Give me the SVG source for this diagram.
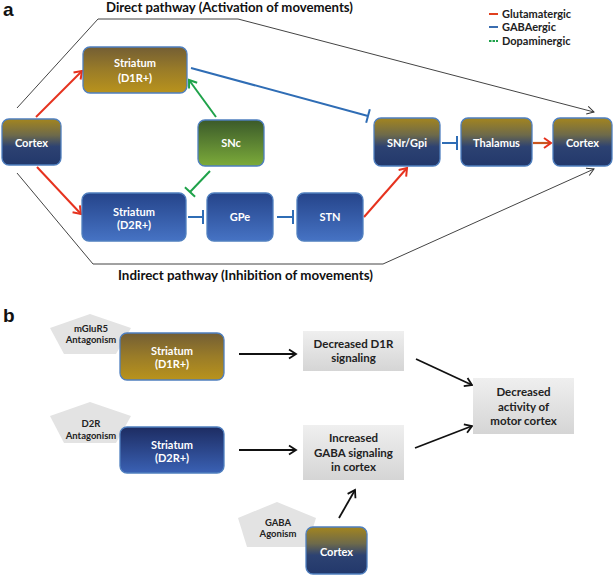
<svg xmlns="http://www.w3.org/2000/svg" width="614" height="576" viewBox="0 0 614 576">
<defs>
<style>
.nt{font-family:Lato,"Open Sans","Liberation Sans",sans-serif;font-weight:bold;font-size:11px;fill:#ffffff;text-anchor:middle}
.gt{font-family:Lato,"Open Sans","Liberation Sans",sans-serif;font-weight:bold;font-size:11.5px;fill:#222222;text-anchor:middle}
.pt{font-family:Lato,"Open Sans","Liberation Sans",sans-serif;font-weight:bold;font-size:9.5px;fill:#222222;text-anchor:middle}
.tt{font-family:Lato,"Open Sans","Liberation Sans",sans-serif;font-weight:bold;font-size:13px;fill:#111111}
.lg{font-family:Lato,"Open Sans","Liberation Sans",sans-serif;font-weight:bold;font-size:11px;fill:#222222}
.lab{font-family:"Liberation Sans",Arial,sans-serif;font-weight:bold;font-size:19px;fill:#111111}
.box{stroke:#4f7fbf;stroke-width:1.3}
.gbox{fill:url(#gGray)}
.pent{fill:#e3e3e3}
.red{stroke:#e6321e;stroke-width:2;fill:none}
.blue{stroke:#2f6db5;stroke-width:2;fill:none}
.green{stroke:#1fa24a;stroke-width:2;fill:none}
.path{stroke:#444444;stroke-width:1;fill:none}
.blk{stroke:#111111;stroke-width:1.8;fill:none}
</style>
<linearGradient id="gGB" x1="0" y1="0" x2="0" y2="1">
<stop offset="0" stop-color="#a3851f"/>
<stop offset="0.35" stop-color="#6e6a4a"/>
<stop offset="0.6" stop-color="#2d4272"/>
<stop offset="1" stop-color="#22386b"/>
</linearGradient>
<linearGradient id="gGold" x1="0" y1="0" x2="0" y2="1">
<stop offset="0" stop-color="#735e34"/>
<stop offset="0.5" stop-color="#9a7c28"/>
<stop offset="1" stop-color="#b9931c"/>
</linearGradient>
<linearGradient id="gBlue" x1="0" y1="0" x2="0" y2="1">
<stop offset="0" stop-color="#25448a"/>
<stop offset="1" stop-color="#4673c4"/>
</linearGradient>
<linearGradient id="gBlueDk" x1="0" y1="0" x2="0" y2="1">
<stop offset="0" stop-color="#1d2c62"/>
<stop offset="1" stop-color="#3a61b4"/>
</linearGradient>
<linearGradient id="gGreen" x1="0" y1="0" x2="0" y2="1">
<stop offset="0" stop-color="#3b5a2a"/>
<stop offset="1" stop-color="#7cab3a"/>
</linearGradient>
<linearGradient id="gGray" x1="0" y1="0" x2="0" y2="1">
<stop offset="0" stop-color="#efefef"/>
<stop offset="1" stop-color="#d5d5d5"/>
</linearGradient>
<marker id="mRed" viewBox="0 0 12 12" markerWidth="12" markerHeight="12" refX="9" refY="6" orient="auto" markerUnits="userSpaceOnUse">
<path d="M2,1 L9,6 L2,11" fill="none" stroke="#e6321e" stroke-width="2"/>
</marker>
<marker id="mGreen" viewBox="0 0 12 12" markerWidth="12" markerHeight="12" refX="9" refY="6" orient="auto" markerUnits="userSpaceOnUse">
<path d="M2,1 L9,6 L2,11" fill="none" stroke="#1fa24a" stroke-width="2"/>
</marker>
<marker id="tBlue" viewBox="0 0 4 16" markerWidth="4" markerHeight="16" refX="2" refY="8" orient="auto" markerUnits="userSpaceOnUse">
<path d="M2,1 V15" stroke="#2f6db5" stroke-width="2"/>
</marker>
<marker id="tGreen" viewBox="0 0 4 16" markerWidth="4" markerHeight="16" refX="2" refY="8" orient="auto" markerUnits="userSpaceOnUse">
<path d="M2,1 V15" stroke="#1fa24a" stroke-width="2"/>
</marker>
<marker id="mThin" viewBox="0 0 12 12" markerWidth="12" markerHeight="12" refX="10" refY="6" orient="auto" markerUnits="userSpaceOnUse">
<path d="M3,2 L10,6 L3,10" fill="none" stroke="#333333" stroke-width="1"/>
</marker>
<marker id="mBlk" viewBox="0 0 12 12" markerWidth="12" markerHeight="12" refX="10" refY="6" orient="auto" markerUnits="userSpaceOnUse">
<path d="M3,1.5 L10,6 L3,10.5" fill="none" stroke="#111111" stroke-width="1.8"/>
</marker>
</defs>
<rect x="0" y="0" width="614" height="576" fill="#ffffff"/>

<text class="lab" x="3" y="16">a</text>
<text class="lab" x="3" y="322">b</text>

<text class="tt" x="106" y="12" textLength="247" lengthAdjust="spacingAndGlyphs">Direct pathway (Activation of movements)</text>
<text class="tt" x="118" y="280" textLength="255" lengthAdjust="spacingAndGlyphs">Indirect pathway (Inhibition of movements)</text>

<g id="legend">
<line x1="489" y1="14" x2="498" y2="14" stroke="#e0401e" stroke-width="2"/>
<line x1="489" y1="27" x2="498" y2="27" stroke="#3a6db0" stroke-width="2"/>
<line x1="489" y1="41" x2="498" y2="41" stroke="#1fa24a" stroke-width="2" stroke-dasharray="2.5 1"/>
<text class="lg" x="502" y="18">Glutamatergic</text>
<text class="lg" x="502" y="31">GABAergic</text>
<text class="lg" x="502" y="45">Dopaminergic</text>
</g>

<g id="connectors">
<path class="path" d="M17,108 L98,19 L238,19 L594,112" marker-end="url(#mThin)"/>
<path class="path" d="M17,173 L93,264 L383,264 L594,169" marker-end="url(#mThin)"/>
<line class="red" x1="36" y1="117" x2="82" y2="71" marker-end="url(#mRed)"/>
<line class="red" x1="37" y1="167" x2="81" y2="214" marker-end="url(#mRed)"/>
<line class="blue" x1="191" y1="68" x2="368" y2="116" marker-end="url(#tBlue)"/>
<line class="green" x1="216" y1="117" x2="189" y2="80" marker-end="url(#mGreen)"/>
<line class="green" x1="210" y1="171" x2="190" y2="192" marker-end="url(#tGreen)"/>
<line class="blue" x1="188" y1="217" x2="203" y2="217" marker-end="url(#tBlue)"/>
<line class="blue" x1="277" y1="217" x2="293" y2="217" marker-end="url(#tBlue)"/>
<line class="red" x1="364" y1="217" x2="407" y2="168" marker-end="url(#mRed)"/>
<line class="blue" x1="442" y1="143" x2="457" y2="143" marker-end="url(#tBlue)"/>
<line x1="533" y1="143" x2="551" y2="143" stroke="#c9561e" stroke-width="2.2" marker-end="url(#mRed)"/>
<line class="blk" x1="239" y1="354" x2="296" y2="354" marker-end="url(#mBlk)"/>
<line class="blk" x1="416" y1="359" x2="472" y2="385" marker-end="url(#mBlk)"/>
<line class="blk" x1="239" y1="450" x2="296" y2="450" marker-end="url(#mBlk)"/>
<line class="blk" x1="415" y1="448" x2="472" y2="426" marker-end="url(#mBlk)"/>
<line class="blk" x1="339" y1="518" x2="355" y2="490" marker-end="url(#mBlk)"/>
</g>

<g id="cortex-left">
<rect class="box" x="2" y="119" width="59" height="46" rx="7" fill="url(#gGB)"/>
<text class="nt" x="31.5" y="147">Cortex</text>
</g>
<g id="striatum-d1">
<rect class="box" x="83" y="47" width="104" height="46" rx="7" fill="url(#gGold)"/>
<text class="nt" x="135" y="67">Striatum</text>
<text class="nt" x="135" y="82">(D1R+)</text>
</g>
<g id="snc">
<rect class="box" x="198" y="120" width="66" height="46" rx="7" fill="url(#gGreen)"/>
<text class="nt" x="231" y="147">SNc</text>
</g>
<g id="striatum-d2">
<rect class="box" x="82" y="193" width="104" height="48" rx="7" fill="url(#gBlue)"/>
<text class="nt" x="134" y="216">Striatum</text>
<text class="nt" x="134" y="229">(D2R+)</text>
</g>
<g id="gpe">
<rect class="box" x="207" y="193" width="66" height="48" rx="7" fill="url(#gBlue)"/>
<text class="nt" x="240" y="221">GPe</text>
</g>
<g id="stn">
<rect class="box" x="297" y="193" width="66" height="48" rx="7" fill="url(#gBlue)"/>
<text class="nt" x="330" y="221">STN</text>
</g>
<g id="snr-gpi">
<rect class="box" x="374" y="118" width="66" height="48" rx="7" fill="url(#gGB)"/>
<text class="nt" x="407" y="147">SNr/Gpi</text>
</g>
<g id="thalamus">
<rect class="box" x="461" y="118" width="71" height="48" rx="7" fill="url(#gGB)"/>
<text class="nt" x="496.5" y="147">Thalamus</text>
</g>
<g id="cortex-right">
<rect class="box" x="553" y="118" width="59" height="48" rx="7" fill="url(#gGB)"/>
<text class="nt" x="582.5" y="147">Cortex</text>
</g>

<g id="mglur5-antagonism">
<polygon class="pent" points="90,314 131,328 116,354 64,354 50,328"/>
<text class="pt" x="91" y="332">mGluR5</text>
<text class="pt" x="91" y="343">Antagonism</text>
</g>
<g id="b-striatum-d1">
<rect class="box" x="120" y="333" width="104" height="47" rx="7" fill="url(#gGold)"/>
<text class="nt" x="172" y="355">Striatum</text>
<text class="nt" x="172" y="368">(D1R+)</text>
</g>
<g id="d2r-antagonism">
<polygon class="pent" points="90,402 131,416 116,443 64,443 50,416"/>
<text class="pt" x="91" y="427">D2R</text>
<text class="pt" x="91" y="439">Antagonism</text>
</g>
<g id="b-striatum-d2">
<rect class="box" x="120" y="427" width="104" height="46" rx="7" fill="url(#gBlueDk)"/>
<text class="nt" x="172" y="449">Striatum</text>
<text class="nt" x="172" y="462">(D2R+)</text>
</g>
<g id="decreased-d1r">
<rect class="gbox" x="303" y="331" width="101" height="40"/>
<text class="gt" x="353.5" y="348">Decreased D1R</text>
<text class="gt" x="353.5" y="362">signaling</text>
</g>
<g id="increased-gaba">
<rect class="gbox" x="303" y="425" width="101" height="55"/>
<text class="gt" x="353.5" y="442">Increased</text>
<text class="gt" x="353.5" y="456.5">GABA signaling</text>
<text class="gt" x="353.5" y="471">in cortex</text>
</g>
<g id="decreased-activity">
<rect class="gbox" x="473" y="378" width="101" height="56"/>
<text class="gt" x="523.5" y="396">Decreased</text>
<text class="gt" x="523.5" y="410.5">activity of</text>
<text class="gt" x="523.5" y="425">motor cortex</text>
</g>
<g id="gaba-agonism">
<polygon class="pent" points="277,502 316,518 307,547 247,547 238,518"/>
<text class="pt" x="278" y="526">GABA</text>
<text class="pt" x="278" y="537">Agonism</text>
</g>
<g id="b-cortex">
<rect class="box" x="306" y="527" width="61" height="47" rx="7" fill="url(#gGB)"/>
<text class="nt" x="336.5" y="556">Cortex</text>
</g>
</svg>
